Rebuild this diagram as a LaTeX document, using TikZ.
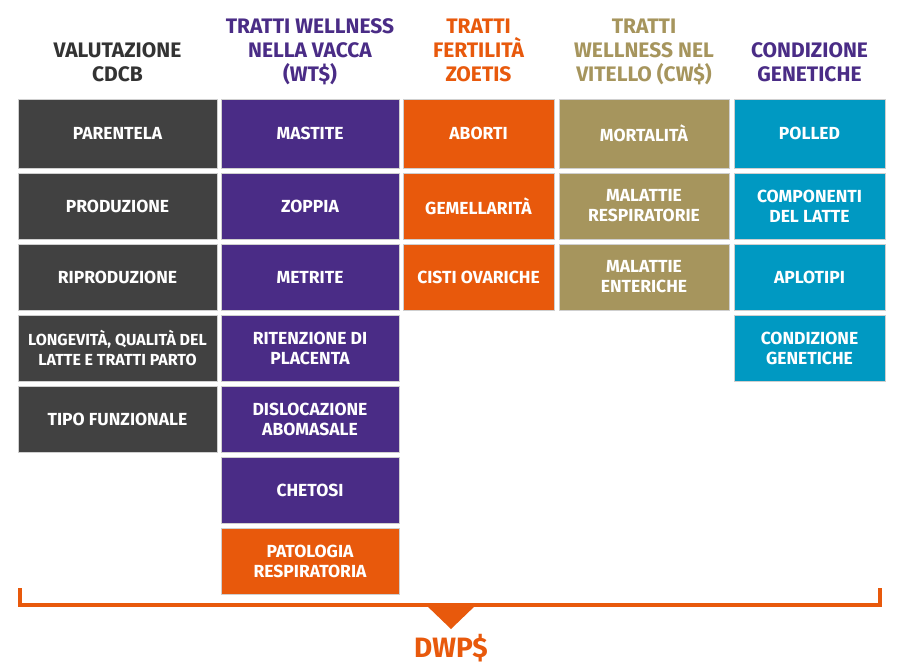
\documentclass[tikz,border=0pt]{standalone}
\usepackage{fontspec}
\setmainfont{Fira Sans}
\usetikzlibrary{positioning}

\definecolor{cdcbgrey}{HTML}{414141}
\definecolor{headgrey}{HTML}{333333}
\definecolor{wtpurple}{HTML}{4A2C86}
\definecolor{zoetisorange}{HTML}{E8590C}
\definecolor{cwkhaki}{HTML}{A6955D}
\definecolor{genteal}{HTML}{0099C2}
\definecolor{boxline}{HTML}{CFCFCF}

\begin{document}
\begin{tikzpicture}[x=1pt,y=-1pt,node distance=5pt]
	\tikzstyle{trait}=[draw=boxline,line width=0.6pt,text=white,inner sep=0pt,outer sep=0pt,
		font=\fontsize{17.5}{20}\selectfont\bfseries,align=center,minimum height=66pt]
	\tikzstyle{cdcb}=[trait,fill=cdcbgrey,minimum width=199pt]
	\tikzstyle{wt}=[trait,fill=wtpurple,minimum width=178pt]
	\tikzstyle{fert}=[trait,fill=zoetisorange,minimum width=151pt]
	\tikzstyle{cw}=[trait,fill=cwkhaki,minimum width=170pt]
	\tikzstyle{gen}=[trait,fill=genteal,minimum width=151pt]
	\tikzstyle{head}=[font=\fontsize{21}{24}\selectfont\bfseries,align=center,anchor=base]

	\useasboundingbox[fill=white] (0,0) rectangle (900,667);

	% column headers
	\node[head,text=headgrey] (H1) at (117.5,81) {VALUTAZIONE\\CDCB};
	\node[head,text=wtpurple] (H2) at (310,81) {TRATTI WELLNESS\\NELLA VACCA\\(WT\$)};
	\node[head,text=zoetisorange] (H3) at (478.5,81) {TRATTI\\FERTILITÀ\\ZOETIS};
	\node[head,text=cwkhaki] (H4) at (644,81) {TRATTI\\WELLNESS NEL\\VITELLO (CW\$)};
	\node[head,text=wtpurple] (H5) at (809.5,81) {CONDIZIONE\\GENETICHE};

	% CDCB
	\node[cdcb,minimum height=69pt] (A1) at (117.5,133.5) {PARENTELA};
	\node[cdcb] (A2) [below = of A1] {PRODUZIONE};
	\node[cdcb] (A3) [below = of A2] {RIPRODUZIONE};
	\node[cdcb,font=\fontsize{16}{20}\selectfont\bfseries] (A4) [below = of A3] {LONGEVITÀ, QUALITÀ DEL\\LATTE E TRATTI PARTO};
	\node[cdcb] (A5) [below = of A4] {TIPO FUNZIONALE};

	% WT$
	\node[wt,minimum height=69pt] (B1) at (310,133.5) {MASTITE};
	\node[wt] (B2) [below = of B1] {ZOPPIA};
	\node[wt] (B3) [below = of B2] {METRITE};
	\node[wt] (B4) [below = of B3] {RITENZIONE DI\\PLACENTA};
	\node[wt] (B5) [below = of B4] {DISLOCAZIONE\\ABOMASALE};
	\node[wt] (B6) [below = of B5] {CHETOSI};
	\node[wt,fill=zoetisorange] (B7) [below = of B6] {PATOLOGIA\\RESPIRATORIA};

	% fertilita
	\node[fert,minimum height=69pt] (C1) at (478.5,133.5) {ABORTI};
	\node[fert] (C2) [below = of C1] {GEMELLARITÀ};
	\node[fert] (C3) [below = of C2] {CISTI OVARICHE};

	% CW$
	\node[cw,minimum height=69pt] (D1) at (644,133.5) {MORTALITÀ};
	\node[cw] (D2) [below = of D1] {MALATTIE\\RESPIRATORIE};
	\node[cw] (D3) [below = of D2] {MALATTIE\\ENTERICHE};

	% genetiche
	\node[gen,minimum height=69pt] (E1) at (809.5,133.5) {POLLED};
	\node[gen] (E2) [below = of E1] {COMPONENTI\\DEL LATTE};
	\node[gen] (E3) [below = of E2] {APLOTIPI};
	\node[gen] (E4) [below = of E3] {CONDIZIONE\\GENETICHE};

	% bracket
	\coordinate (bl) at (20,588);
	\coordinate (br) at (880,588);
	\draw[zoetisorange,line width=3.5pt] (bl) |- (880,605) -- (br);
	\fill[zoetisorange] (425,604) -- (477,604) -- (451,629) -- cycle;
	\node[text=zoetisorange,font=\fontsize{28}{30}\selectfont\bfseries] (DWP) at (451,648) {DWP\$};
\end{tikzpicture}
\end{document}
